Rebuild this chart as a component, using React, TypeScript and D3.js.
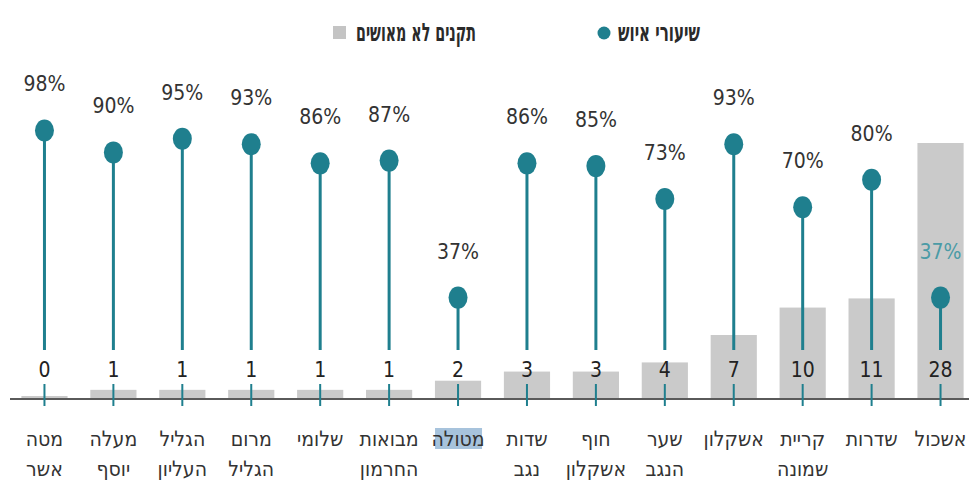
import React, { useEffect, useRef } from "react";
import * as d3 from "d3";

// categories, left to right as shown (two lines each)
const categories: string[][] = [
  ["מטה", "אשר"],
  ["מעלה", "יוסף"],
  ["הגליל", "העליון"],
  ["מרום", "הגליל"],
  ["שלומי"],
  ["מבואות", "החרמון"],
  ["מטולה"],
  ["שדות", "נגב"],
  ["חוף", "אשקלון"],
  ["שער", "הנגב"],
  ["אשקלון"],
  ["קריית", "שמונה"],
  ["שדרות"],
  ["אשכול"],
];
const staffingRates = [98, 90, 95, 93, 86, 87, 37, 86, 85, 73, 93, 70, 80, 37];
const unapproved = [0, 1, 1, 1, 1, 1, 2, 3, 3, 4, 7, 10, 11, 28];
const highlighted = "מטולה";

const legendRate = "שיעורי איוש";
const legendUnapproved = "תקנים לא מאושים";

const TEAL = "#1f7f8e";
const NARROW = "'Liberation Sans Narrow', 'DejaVu Sans Condensed', 'Liberation Sans', sans-serif";

const App: React.FC = () => {
  const svgRef = useRef<SVGSVGElement | null>(null);

  useEffect(() => {
    const width = 969;
    const height = 482;
    const baseY = 399;

    d3.select(svgRef.current).selectAll("*").remove();
    const svg = d3.select(svgRef.current).attr("width", width).attr("height", height);

    const idx = d3.range(categories.length);
    const x = d3
      .scaleBand<number>()
      .domain(idx)
      .range([10, 975])
      .paddingInner(0.33)
      .paddingOuter(0.165);
    const cx = (i: number) => (x(i) as number) + x.bandwidth() / 2;

    const yCount = d3.scaleLinear().domain([0, 28]).range([baseY, 143]);
    const yRate = d3.scaleLinear().domain([0, 100]).range([baseY, 125]);

    // bars
    svg
      .append("g")
      .selectAll("rect")
      .data(idx)
      .join("rect")
      .attr("x", (i) => x(i) as number)
      .attr("width", x.bandwidth())
      .attr("y", (i) => Math.min(yCount(unapproved[i]), baseY - 3))
      .attr("height", (i) => Math.max(baseY - yCount(unapproved[i]), 3))
      .attr("fill", "#cacaca");

    // axis line
    svg
      .append("line")
      .attr("x1", 10)
      .attr("x2", width)
      .attr("y1", baseY)
      .attr("y2", baseY)
      .attr("stroke", "#5a5a5a")
      .attr("stroke-width", 2);

    // ticks through axis
    svg
      .append("g")
      .selectAll("line")
      .data(idx)
      .join("line")
      .attr("x1", cx)
      .attr("x2", cx)
      .attr("y1", 384)
      .attr("y2", 406)
      .attr("stroke", TEAL)
      .attr("stroke-width", 2);

    // stems
    svg
      .append("g")
      .selectAll("line")
      .data(idx)
      .join("line")
      .attr("x1", cx)
      .attr("x2", cx)
      .attr("y1", (i) => yRate(staffingRates[i]))
      .attr("y2", 350)
      .attr("stroke", TEAL)
      .attr("stroke-width", 3);

    // dots
    svg
      .append("g")
      .selectAll("ellipse")
      .data(idx)
      .join("ellipse")
      .attr("cx", cx)
      .attr("cy", (i) => yRate(staffingRates[i]))
      .attr("rx", 9.5)
      .attr("ry", 11)
      .attr("fill", TEAL);

    // rate labels
    svg
      .append("g")
      .selectAll("text")
      .data(idx)
      .join("text")
      .attr("x", cx)
      .attr("y", (i) => yRate(staffingRates[i]) - 39)
      .attr("text-anchor", "middle")
      .attr("font-family", NARROW)
      .attr("font-size", 21)
      .attr("fill", (i) => (i === idx.length - 1 ? "#4b9ba6" : "#333"))
      .text((i) => `${staffingRates[i]}%`);

    // count labels
    svg
      .append("g")
      .selectAll("text")
      .data(idx)
      .join("text")
      .attr("x", cx)
      .attr("y", 377)
      .attr("text-anchor", "middle")
      .attr("font-family", NARROW)
      .attr("font-size", 21)
      .attr("fill", "#222")
      .text((i) => unapproved[i]);

    // highlight behind selected category
    const hi = categories.findIndex((c) => c[0] === highlighted);
    svg
      .append("rect")
      .attr("x", cx(hi) - 23)
      .attr("y", 428)
      .attr("width", 47)
      .attr("height", 21)
      .attr("fill", "#a7c3dc");

    // category labels
    const cat = svg
      .append("g")
      .selectAll("text")
      .data(idx)
      .join("text")
      .attr("text-anchor", "middle")
      .attr("font-family", NARROW)
      .attr("font-size", 21)
      .attr("fill", "#333");
    cat
      .selectAll("tspan")
      .data((i) => categories[i].map((t) => ({ t, i })))
      .join("tspan")
      .attr("x", (d) => cx(d.i))
      .attr("y", (_, j) => 446 + j * 30)
      .text((d) => d.t);

    // legend
    const lg = svg
      .append("g")
      .attr("font-family", NARROW)
      .attr("font-size", 25)
      .attr("font-weight", 600)
      .attr("fill", "#2a2a2a");
    lg.append("rect").attr("x", 333).attr("y", 26).attr("width", 13).attr("height", 13).attr("fill", "#c4c4c4");
    lg.append("text")
      .attr("x", 476)
      .attr("y", 41)
      .attr("text-anchor", "end")
      .attr("textLength", 120)
      .attr("lengthAdjust", "spacingAndGlyphs")
      .text(legendUnapproved);
    lg.append("circle").attr("cx", 604).attr("cy", 33).attr("r", 6.5).attr("fill", TEAL);
    lg.append("text")
      .attr("x", 700)
      .attr("y", 41)
      .attr("text-anchor", "end")
      .attr("textLength", 82)
      .attr("lengthAdjust", "spacingAndGlyphs")
      .text(legendRate);
  }, []);

  return <svg ref={svgRef} style={{ position: "absolute", left: 0, top: 0, background: "#fff" }}></svg>;
};

export default App;
